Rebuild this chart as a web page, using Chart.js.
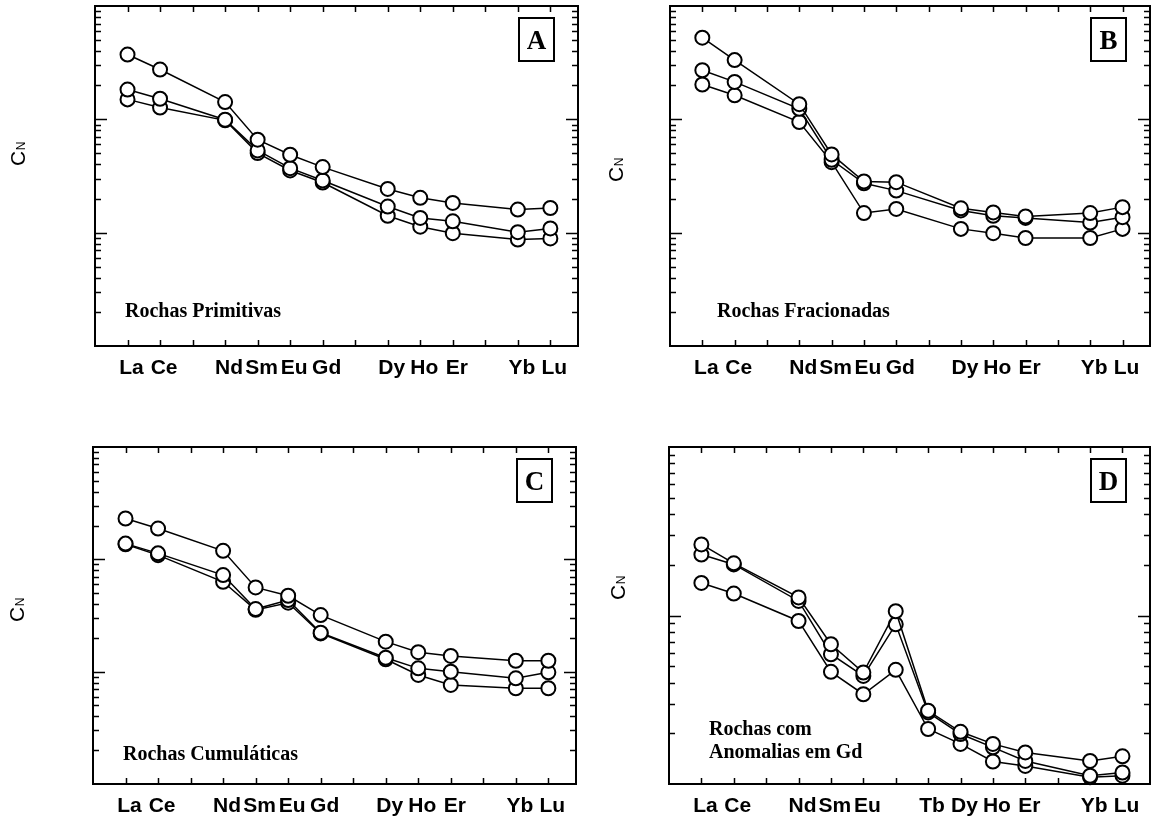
<!DOCTYPE html>
<html>
<head>
<meta charset="utf-8">
<title>Padrões de ETR normalizados</title>
<script src="https://cdn.jsdelivr.net/npm/chart.js@4.4.1/dist/chart.umd.min.js"></script>
<style>
  html, body { margin: 0; padding: 0; background: #fff; }
  #page { position: relative; width: 1154px; height: 822px; overflow: hidden; background: #fff; }
  canvas { position: absolute; }
</style>
</head>
<body>
<div id="page">
  <canvas id="chartA" width="590" height="400" style="left:0px;top:0px"></canvas>
  <canvas id="chartB" width="564" height="400" style="left:590px;top:0px"></canvas>
  <canvas id="chartC" width="590" height="430" style="left:0px;top:400px"></canvas>
  <canvas id="chartD" width="564" height="430" style="left:590px;top:400px"></canvas>
</div>
<script>
// REE order along the x axis (Pr, Tm and mostly Tb are not analysed)
const elements = ['La', 'Ce', 'Pr', 'Nd', 'Sm', 'Eu', 'Gd', 'Tb', 'Dy', 'Ho', 'Er', 'Tm', 'Yb', 'Lu'];
const tickLabelsABC = ['La', 'Ce', '', 'Nd', 'Sm', 'Eu', 'Gd', '', 'Dy', 'Ho', 'Er', '', 'Yb', 'Lu'];
const tickLabelsD = ['La', 'Ce', '', 'Nd', 'Sm', 'Eu', '', 'Tb', 'Dy', 'Ho', 'Er', '', 'Yb', 'Lu'];

// A - Rochas Primitivas
const primA1 = [373, 275, null, 142, 66.1, 48.7, 37.9, null, 24.3, 20.3, 18.3, null, 16.0, 16.5];
const primA2 = [183, 152, null, 99.3, 53.2, 37.1, 28.9, null, 17.0, 13.5, 12.6, null, 10.1, 10.9];
const primA3 = [150, 127, null, 98, 50.4, 35.4, 27.7, null, 14.1, 11.3, 9.9, null, 8.7, 8.9];

// B - Rochas Fracionadas
const fracB1 = [525, 333, null, 136, 49.0, 28.3, 27.9, null, 16.4, 15.1, 13.9, null, 14.9, 16.8];
const fracB2 = [271, 214, null, 124, 44.0, 27.3, 23.5, null, 15.7, 14.1, 13.5, null, 12.3, 13.7];
const fracB3 = [203, 163, null, 94.7, 41.9, 14.9, 16.2, null, 10.8, 9.9, 8.97, null, 8.97, 10.8];

// C - Rochas Cumuláticas
const cumC1 = [231, 188, null, 119, 56.2, 47.4, 31.9, null, 18.5, 14.9, 13.8, null, 12.5, 12.5];
const cumC2 = [138, 113, null, 72.4, 36.1, 43.4, 22.2, null, 13.3, 10.7, 10.0, null, 8.73, 9.87];
const cumC3 = [136, 109, null, 63.1, 35.5, 41.1, 21.9, null, 12.9, 9.35, 7.62, null, 7.12, 7.12];

// D - Rochas com anomalias em Gd
const gdD1 = [264, 204, null, 128, 67.5, 45.9, 106, 27.2, 20.4, 17.3, 15.4, null, 13.7, 14.6];
const gdD2 = [230, 201, null, 122, 58.9, 43.8, 88.6, 26.6, 19.8, 16.5, 13.7, null, 11.2, 11.7];
const gdD3 = [156, 135, null, 92.8, 46.3, 34.1, 47.6, 21.2, 17.3, 13.6, 12.8, null, 10.95, 11.2];

const SANS = '"Liberation Sans", Arial, sans-serif';
const SERIF = '"Liberation Serif", "Times New Roman", serif';

/**
 * Frame, inward ticks, panel letter, caption and the C_N axis title
 */
const framePlugin = {
  id: 'frame',
  beforeDatasetsDraw(chart, args, o) {
    const { ctx, chartArea: a, scales: { x, y } } = chart;
    ctx.save();
    ctx.strokeStyle = '#000';
    ctx.lineWidth = 2;
    ctx.strokeRect(a.left, a.top, a.right - a.left, a.bottom - a.top);

    ctx.lineWidth = 1.5;
    ctx.beginPath();
    elements.forEach((el, i) => {
      const px = Math.round(x.getPixelForValue(i)) + 0.5;
      ctx.moveTo(px, a.bottom); ctx.lineTo(px, a.bottom - 6);
      ctx.moveTo(px, a.top); ctx.lineTo(px, a.top + 6);
    });
    // log ticks: long at decades, short at 2..9
    const k0 = Math.floor(Math.log10(y.min));
    const k1 = Math.ceil(Math.log10(y.max));
    for (let k = k0; k < k1; k++) {
      for (let m = 1; m <= 9; m++) {
        const v = m * Math.pow(10, k);
        if (v <= y.min * 1.0001 || v >= y.max * 0.9999) continue;
        const py = Math.round(y.getPixelForValue(v)) + 0.5;
        const len = m === 1 ? 12 : 6;
        ctx.moveTo(a.left, py); ctx.lineTo(a.left + len, py);
        ctx.moveTo(a.right, py); ctx.lineTo(a.right - len, py);
      }
    }
    ctx.stroke();
    ctx.restore();
  },
  afterDraw(chart, args, o) {
    const { ctx, chartArea: a } = chart;
    ctx.save();
    ctx.fillStyle = '#000';
    ctx.strokeStyle = '#000';

    // letter box
    const bw = 35, bh = 43;
    const bx = a.right - 24 - bw, by = a.top + 12;
    ctx.lineWidth = 2;
    ctx.strokeRect(bx, by, bw, bh);
    ctx.font = 'bold 27px ' + SERIF;
    ctx.textAlign = 'center';
    ctx.textBaseline = 'alphabetic';
    ctx.fillText(o.letter, bx + bw / 2, by + bh / 2 + 9);

    // caption inside the plot
    ctx.font = 'bold 20px ' + SERIF;
    ctx.textAlign = 'left';
    o.note.forEach((line, i) => {
      ctx.fillText(line, a.left + o.noteX, a.bottom - o.noteY + i * 23);
    });

    // y title: C with small N
    ctx.translate(o.titleX, o.titleY);
    ctx.rotate(-Math.PI / 2);
    ctx.font = '21px ' + SANS;
    const wC = ctx.measureText('C').width;
    ctx.font = '12px ' + SANS;
    const wN = ctx.measureText('N').width;
    const x0 = -(wC + wN) / 2;
    ctx.font = '21px ' + SANS;
    ctx.fillText('C', x0, 7.5);
    ctx.font = '12px ' + SANS;
    ctx.fillText('N', x0 + wC + 0.5, 7.5);
    ctx.restore();
  }
};

function toPoints(values) {
  return values
    .map((v, i) => ({ x: i, y: v }))
    .filter(p => p.y !== null);
}

function makePanel(id, series, tickLabels, yMin, yMax, pad, frame) {
  return new Chart(document.getElementById(id).getContext('2d'), {
    type: 'line',
    data: {
      datasets: series.map(s => ({
        data: toPoints(s),
        borderColor: '#000',
        borderWidth: 1.5,
        tension: 0,
        pointRadius: 7,
        pointBorderWidth: 2,
        pointBorderColor: '#000',
        pointBackgroundColor: '#fff',
        clip: false
      }))
    },
    options: {
      responsive: false,
      devicePixelRatio: 1,
      animation: false,
      events: [],
      layout: { padding: pad, autoPadding: false },
      scales: {
        x: {
          type: 'linear',
          min: -1,
          max: 13.85,
          grid: { display: false, drawTicks: false },
          border: { display: false },
          afterBuildTicks: axis => {
            axis.ticks = elements.map((el, i) => ({ value: i }));
          },
          ticks: {
            autoSkip: false,
            maxRotation: 0,
            padding: 10,
            labelOffset: 4,
            color: '#000',
            font: { family: SANS, size: 21, weight: 'bold' },
            callback: value => tickLabels[value]
          }
        },
        y: {
          type: 'logarithmic',
          display: false,
          min: yMin,
          max: yMax
        }
      },
      plugins: {
        legend: { display: false },
        tooltip: { enabled: false },
        frame: frame
      }
    },
    plugins: [framePlugin]
  });
}

makePanel('chartA', [primA1, primA2, primA3], tickLabelsABC, 1, 1000,
  { left: 95, right: 12, top: 6, bottom: 8.8 },
  { letter: 'A', note: ['Rochas Primitivas'], noteX: 30, noteY: 29, titleX: 17, titleY: 154 });

makePanel('chartB', [fracB1, fracB2, fracB3], tickLabelsABC, 1, 1000,
  { left: 80, right: 4, top: 6, bottom: 8.8 },
  { letter: 'B', note: ['Rochas Fracionadas'], noteX: 47, noteY: 29, titleX: 25, titleY: 170 });

makePanel('chartC', [cumC1, cumC2, cumC3], tickLabelsABC, 1, 1000,
  { left: 93, right: 14, top: 47, bottom: 0.8 },
  { letter: 'C', note: ['Rochas Cumuláticas'], noteX: 30, noteY: 24, titleX: 16, titleY: 210 });

makePanel('chartD', [gdD1, gdD2, gdD3], tickLabelsD, 10, 1000,
  { left: 79, right: 4, top: 47, bottom: 0.8 },
  { letter: 'D', note: ['Rochas com', 'Anomalias em Gd'], noteX: 40, noteY: 49, titleX: 27, titleY: 188 });
</script>
</body>
</html>
